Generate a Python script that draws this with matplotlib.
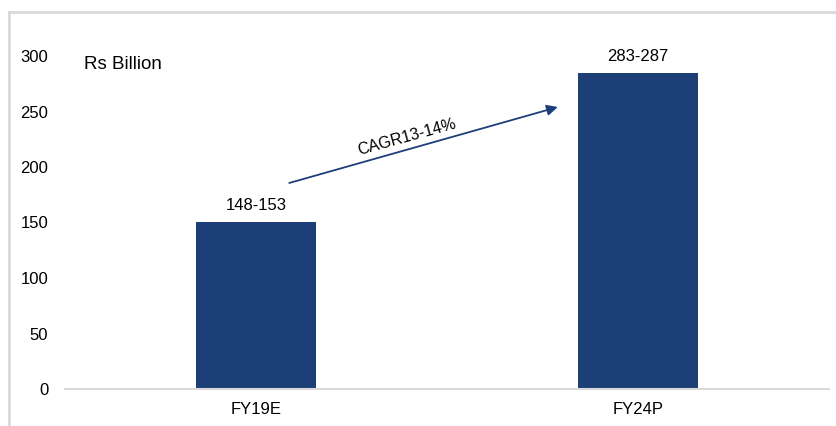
import matplotlib.pyplot as plt
from matplotlib.lines import Line2D

plt.rcParams['font.family'] = ['Liberation Sans', 'DejaVu Sans']

categories = ['FY19E', 'FY24P']
values = [150.5, 285]
labels = ['148-153', '283-287']
yticks = [0, 50, 100, 150, 200, 250, 300]

bar_color = '#1D3F78'

fig = plt.figure(figsize=(8.36, 4.26), dpi=100)
ax = fig.add_axes([65/836, 37/426, 764/836, 333/426])

x = range(len(categories))
ax.bar(x, values, width=0.315, color=bar_color)
for i, (v, lab) in enumerate(zip(values, labels)):
    ax.annotate(lab, (i, v), xytext=(0, 6.5), textcoords='offset points',
                ha='center', va='bottom', fontsize=12)

ax.set_xlim(-0.5, 1.5)
ax.set_ylim(0, 300)
ax.set_xticks(list(x))
ax.set_xticklabels(categories, fontsize=12)
ax.set_yticks(yticks)
ax.set_yticklabels([str(t) for t in yticks], fontsize=12)
ax.tick_params(axis='both', length=0)
ax.tick_params(axis='y', pad=12)
ax.tick_params(axis='x', pad=9)
for s in ['top', 'right', 'left']:
    ax.spines[s].set_visible(False)
ax.spines['bottom'].set_color('#d9d9d9')
ax.spines['bottom'].set_linewidth(1.5)

ax.text(0.025, 0.975, 'Rs Billion', transform=ax.transAxes, fontsize=13.5,
        ha='left', va='center')

# growth arrow
ax.annotate('', xy=(0.79, 254), xytext=(0.087, 185.6),
            arrowprops=dict(arrowstyle='-|>', color=bar_color, lw=1.3,
                            mutation_scale=16, shrinkA=0, shrinkB=0))
ax.text(0.396, 227, 'CAGR13-14%', rotation=15.5, rotation_mode='anchor',
        ha='center', va='center', fontsize=11.5)

# outer frame
fig.add_artist(Line2D([9/836, 9/836], [0, 1 - 12/426], transform=fig.transFigure,
                      color='#d9d9d9', lw=2))
fig.add_artist(Line2D([9/836, 1], [1 - 12/426, 1 - 12/426], transform=fig.transFigure,
                      color='#d9d9d9', lw=2))

fig.savefig('out.png', dpi=100)
